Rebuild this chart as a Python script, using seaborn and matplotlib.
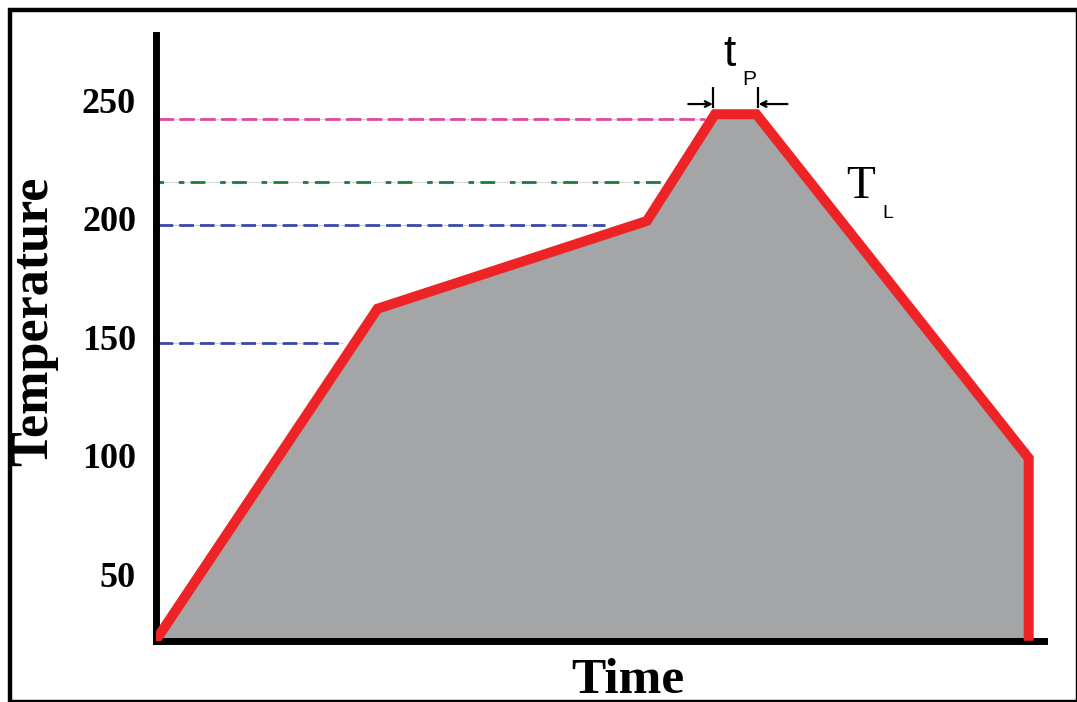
import matplotlib
matplotlib.use("Agg")
import matplotlib.pyplot as plt
import seaborn as sns
from matplotlib.patches import Rectangle

# reflow profile: time (s) and temperature (°C) at each corner of the curve
time = [0, 75, 166, 189, 203, 295, 295]
temperature = [22, 162, 199, 244, 244, 99, 22]

# dashed reference levels and where each one stops
ref_levels = [242, 215.6, 197.3, 147.4]
ref_ends = [185.6, 171.1, 151.9, 63.2]
ref_colors = ["#dc4a9f", "#1b7b3f", "#3a49a3", "#3a49a3"]
ref_faint = ["#f2c6df", "#d9d9d9", "#c9cde6", "#c9cde6"]
ref_dashes = [(0, (5.6, 1.9)), (3.3, (5.3, 5.3, 2.0, 2.3)), (0, (5.3, 2.15)), (0, (5.3, 2.15))]

yticks = [50, 100, 150, 200, 250]

sns.set_style("white")
plt.rcParams["font.family"] = ["Liberation Serif", "DejaVu Serif"]
plt.rcParams.update({"text.color": "black", "axes.labelcolor": "black",
                     "xtick.color": "black", "ytick.color": "black"})

W, H = 1077, 702
left, right, top, bottom = 155.5, 1043.5, 35.5, 641
fig = plt.figure(figsize=(W / 100, H / 100), dpi=100)
ax = fig.add_axes([left / W, 1 - bottom / H, (right - left) / W, (bottom - top) / H])

# grey area under the profile
ax.fill_between(time, temperature, 0, color="#a4a5a7", lw=0, zorder=1)

# dashed reference lines (thin faint line underneath, like the original)
for lvl, end, col, faint, ls in zip(ref_levels, ref_ends, ref_colors, ref_faint, ref_dashes):
    ax.hlines(lvl, 1, end, color=faint, lw=0.8, zorder=1.5)
    ax.hlines(lvl, 1, end, color=col, lw=2.0, linestyles=[ls], zorder=1.6)

# the profile itself
sns.lineplot(x=time, y=temperature, sort=False, estimator=None, color="#ee2326",
             linewidth=7.2, solid_joinstyle="miter", solid_capstyle="butt", ax=ax, zorder=3)

ax.set_xlim(0, 300)
ax.set_ylim(21.9, 277.2)
ax.set_xticks([])
ax.set_yticks(yticks)
ax.set_yticklabels([str(v) for v in yticks], fontsize=26, fontweight="bold", color="black")
ax.tick_params(axis="y", length=0, pad=14)

for side in ["top", "right"]:
    ax.spines[side].set_visible(False)
for side in ["left", "bottom"]:
    ax.spines[side].set_linewidth(5)
    ax.spines[side].set_color("black")

ax.set_xlabel("Time", fontsize=37, fontweight="bold", color="black")
ax.xaxis.set_label_coords((627.5 - left) / (right - left), -(658 - bottom) / (bottom - top))
ax.set_ylabel("Temperature", fontsize=37.5, fontweight="bold", color="black")
ax.yaxis.set_label_coords((58 - left) / (right - left), (bottom - 321) / (bottom - top))

# peak time marker (t_P) with arrows pointing at the plateau
peak_start, peak_end = time[3], time[4]
arrow_y = 248.3
ax.vlines([peak_start - 0.7, peak_end + 0.7], 246.6, 255.5, color="black", lw=1.6, zorder=4)
ax.annotate("", xy=(peak_start - 0.7, arrow_y), xytext=(peak_start - 9, arrow_y),
            arrowprops=dict(arrowstyle="->", color="black", lw=1.6, shrinkA=0, shrinkB=0),
            annotation_clip=False)
ax.annotate("", xy=(peak_end + 0.7, arrow_y), xytext=(peak_end + 10.5, arrow_y),
            arrowprops=dict(arrowstyle="->", color="black", lw=1.6, shrinkA=0, shrinkB=0),
            annotation_clip=False)
ax.text(191.8, 264.3, "t", fontsize=32, family=["Liberation Sans", "DejaVu Sans"],
        color="black", ha="left", va="baseline", clip_on=False)
ax.text(198.1, 256.3, "P", fontsize=15, family=["Liberation Sans", "DejaVu Sans"],
        color="black", ha="left", va="baseline", clip_on=False)
ax.text(233.5, 208.7, "T", fontsize=34, color="black", ha="left", va="baseline")
ax.text(245.4, 200.3, "L", fontsize=14, family=["Liberation Sans", "DejaVu Sans"],
        color="black", ha="left", va="baseline")

# frame around the whole figure
fig.add_artist(Rectangle((10 / W, 1 - 702 / H), (1078 - 10) / W, (702 - 9.5) / H,
                         transform=fig.transFigure, fill=False, lw=3.2, ec="black"))

fig.savefig("out.png", dpi=100)
